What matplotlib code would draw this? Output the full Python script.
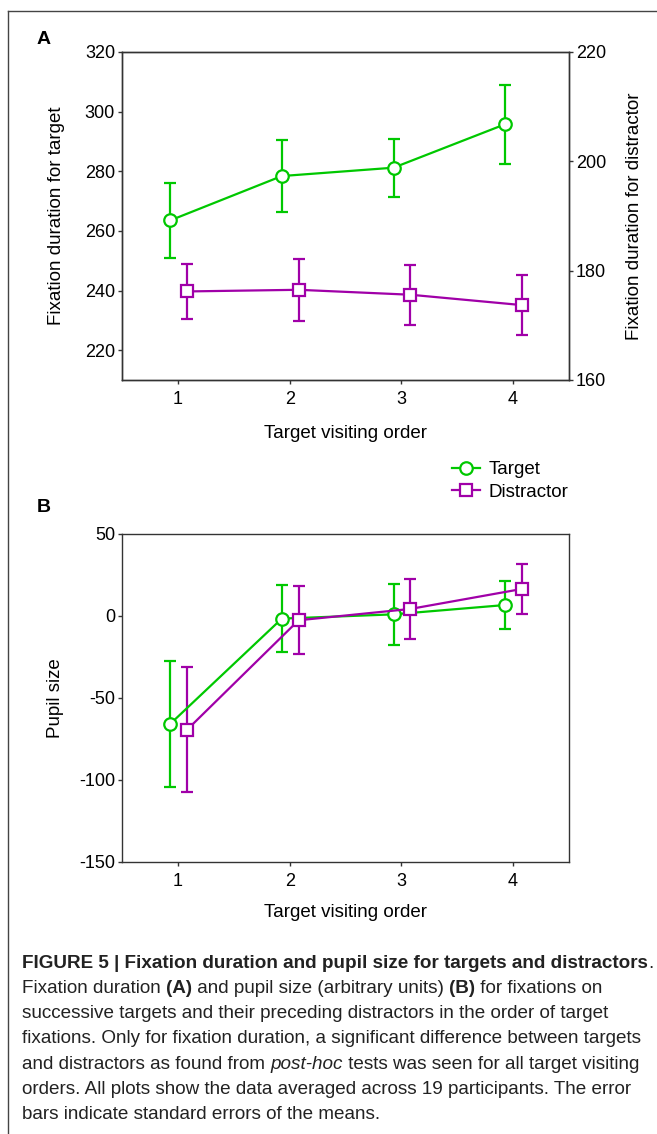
import matplotlib
matplotlib.use('Agg')
import matplotlib.pyplot as plt
from matplotlib.lines import Line2D

# values
order = [1, 2, 3, 4]
target_fix = [263.5, 278.4, 281.2, 295.8]
target_fix_se = [12.6, 12.1, 9.7, 13.3]
distr_fix = [176.2, 176.5, 175.6, 173.7]
distr_fix_se = [5.0, 5.7, 5.5, 5.45]
target_pupil = [-65.9, -1.6, 1.0, 6.7]
target_pupil_se = [38.3, 20.6, 18.4, 14.7]
distr_pupil = [-69.5, -2.6, 4.3, 16.5]
distr_pupil_se = [38.1, 20.6, 18.3, 15.0]

caption = [
    [("FIGURE 5 | Fixation duration and pupil size for targets and distractors", "bold"), (".", "normal")],
    [("Fixation duration ", "normal"), ("(A)", "bold"), (" and pupil size (arbitrary units) ", "normal"),
     ("(B)", "bold"), (" for fixations on", "normal")],
    [("successive targets and their preceding distractors in the order of target", "normal")],
    [("fixations. Only for fixation duration, a significant difference between targets", "normal")],
    [("and distractors as found from ", "normal"), ("post-hoc", "italic"),
     (" tests was seen for all target visiting", "normal")],
    [("orders. All plots show the data averaged across 19 participants. The error", "normal")],
    [("bars indicate standard errors of the means.", "normal")],
]

green = '#00c800'
purple = '#a000a8'
W, H = 657, 1134

plt.rcParams['font.family'] = ['Liberation Sans', 'DejaVu Sans']
plt.rcParams['font.size'] = 13.5
plt.rcParams['axes.unicode_minus'] = False

fig = plt.figure(figsize=(W / 100, H / 100), dpi=100)

def px_axes(l, t, r, b):
    return fig.add_axes([l / W, 1 - b / H, (r - l) / W, (b - t) / H])

def style(ax):
    for s in ax.spines.values():
        s.set_color('#333333')
        s.set_linewidth(1)
    ax.tick_params(direction='out', length=3, width=1, color='#333333', pad=2, labelsize=13)
    ax.tick_params(axis='x', pad=5)

eb = dict(lw=1.6, capsize=4, capthick=1.6, mew=1.6, mfc='white', ms=9)

# panel A
axA = px_axes(122, 52, 569, 380)
axA2 = axA.twinx()
x_t = [o - 0.07 for o in order]
x_d = [o + 0.08 for o in order]
axA.errorbar(x_t, target_fix, yerr=target_fix_se, color=green, marker='o', **eb)
axA2.errorbar(x_d, distr_fix, yerr=distr_fix_se, color=purple, marker='s', **eb)
axA.set_xlim(0.5, 4.5)
axA.set_ylim(210, 320)
axA.set_yticks([220, 240, 260, 280, 300, 320])
axA2.set_ylim(160, 220)
axA2.set_yticks([160, 180, 200, 220])
axA.set_xticks(order)
style(axA)
style(axA2)
axA.set_ylabel('Fixation duration for target', va='center')
axA.yaxis.set_label_coords(-0.146, 0.5)
axA2.set_ylabel('Fixation duration for distractor', va='center', rotation=90)
axA2.yaxis.set_label_coords(1.146, 0.5)
axA.set_xlabel('Target visiting order', va='center')
axA.xaxis.set_label_coords(0.5, -0.162)

# panel B
axB = px_axes(122, 534, 569, 862)
axB.errorbar(x_t, target_pupil, yerr=target_pupil_se, color=green, marker='o', **eb)
axB.errorbar(x_d, distr_pupil, yerr=distr_pupil_se, color=purple, marker='s', **eb)
axB.set_xlim(0.5, 4.5)
axB.set_ylim(-150, 50)
axB.set_yticks([-150, -100, -50, 0, 50])
axB.set_xticks(order)
style(axB)
axB.set_ylabel('Pupil size', va='center')
axB.yaxis.set_label_coords(-0.149, 0.5)
axB.set_xlabel('Target visiting order', va='center')
axB.xaxis.set_label_coords(0.5, -0.155)

fig.text(37 / W, 1 - 40 / H, 'A', fontsize=14, fontweight='bold', va='center')
fig.text(37 / W, 1 - 508 / H, 'B', fontsize=14, fontweight='bold', va='center')

handles = [Line2D([], [], color=green, marker='o', lw=1.6, mew=1.6, mfc='white', ms=9),
           Line2D([], [], color=purple, marker='s', lw=1.6, mew=1.6, mfc='white', ms=9)]
fig.legend(handles, ['Target', 'Distractor'], loc='center left', bbox_to_anchor=(452 / W, 1 - 481 / H),
           frameon=False, borderpad=0, borderaxespad=0, handlelength=1.5, handletextpad=0.45,
           labelspacing=0.3, fontsize=13.5)

# frame around the figure
fig.add_artist(Line2D([8 / W, 8 / W], [0, 1 - 11 / H], transform=fig.transFigure, color='#444444', lw=1))
fig.add_artist(Line2D([8 / W, 1], [1 - 11 / H, 1 - 11 / H], transform=fig.transFigure, color='#444444', lw=1))

# caption, sized so the widest lines fit like in the original
cap_fam = ['Liberation Sans', 'DejaVu Sans']
renderer = fig.canvas.get_renderer()
p1 = fig.text(0, 0, caption[0][0][0] + '.', family=cap_fam, fontsize=12, fontweight='bold')
p4 = fig.text(0, 0, caption[3][0][0], family=cap_fam, fontsize=12)
cap_size = min(12 * 628 / p1.get_window_extent(renderer).width,
               12 * 631 / p4.get_window_extent(renderer).width)
p1.remove()
p4.remove()

x0 = 22
for i, runs in enumerate(caption):
    y = 963 + i * 25.3
    x = x0
    for txt, st in runs:
        kw = dict(family=cap_fam, fontsize=cap_size, va='center', color='#222222')
        if st == 'bold':
            kw['fontweight'] = 'bold'
        elif st == 'italic':
            kw['fontstyle'] = 'italic'
        t = fig.text(x / W, 1 - y / H, txt, **kw)
        x += t.get_window_extent(renderer).width

fig.savefig('out.png', dpi=100)
